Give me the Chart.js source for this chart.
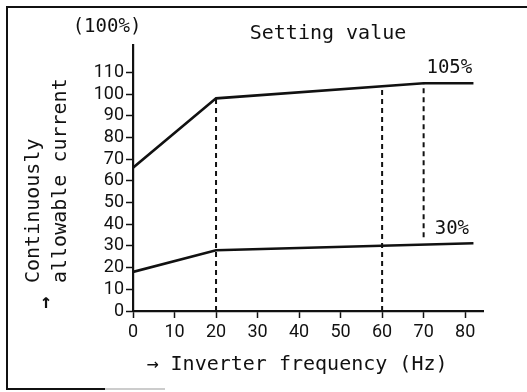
<!DOCTYPE html>
<html>
<head>
<meta charset="utf-8">
<script src="https://cdn.jsdelivr.net/npm/chart.js@4.4.1/dist/chart.umd.min.js"></script>
<style>
  html, body { margin: 0; padding: 0; background: #fff; }
  #chart { display: block; }
</style>
</head>
<body>
<canvas id="chart" width="527" height="392"></canvas>
<script>
// Continuously allowable current vs inverter frequency

const upperFreq = [0, 20, 70, 82];
const upperCurrent = [66, 98, 105, 105];

const lowerFreq = [0, 20, 82];
const lowerCurrent = [18, 28, 31.2];

// dashed guide lines: frequency, top and bottom of each guide
const guideFreq = [20, 60, 70];
const guideTop = [98, 103.6, 105];
const guideBottom = [0, 0, 34];

const xTicks = [0, 10, 20, 30, 40, 50, 60, 70, 80];
const yTicks = [0, 10, 20, 30, 40, 50, 60, 70, 80, 90, 100, 110];

// value labels: text, frequency, current
const valueLabels = [
  { text: '105%', x: 76.2, y: 112 },
  { text: '30%', x: 76.8, y: 37.8 }
];

const INK = '#111';
const monoFont = "'DejaVu Sans Mono', monospace";
const tickFont = "Roboto, 'Liberation Sans', sans-serif";

const toPoints = (xs, ys) => xs.map((x, i) => ({ x, y: ys[i] }));

const datasets = [
  {
    data: toPoints(upperFreq, upperCurrent),
    borderColor: INK, borderWidth: 2.6, pointRadius: 0, tension: 0
  },
  {
    data: toPoints(lowerFreq, lowerCurrent),
    borderColor: INK, borderWidth: 2.6, pointRadius: 0, tension: 0
  }
];

guideFreq.forEach((f, i) => {
  datasets.push({
    data: [{ x: f, y: guideBottom[i] }, { x: f, y: guideTop[i] }],
    borderColor: INK, borderWidth: 2, borderDash: [5, 4],
    pointRadius: 0, tension: 0
  });
});

// outer frame: open on the right, bottom edge only partly printed
const framePlugin = {
  id: 'frame',
  beforeDraw(chart) {
    const { ctx, width } = chart;
    ctx.save();
    ctx.strokeStyle = INK;
    ctx.lineWidth = 2;
    ctx.beginPath();
    ctx.moveTo(width, 7);
    ctx.lineTo(7, 7);
    ctx.lineTo(7, 389);
    ctx.lineTo(105, 389);
    ctx.stroke();
    ctx.strokeStyle = '#999';
    ctx.lineWidth = 1;
    ctx.beginPath();
    ctx.moveTo(105, 389);
    ctx.lineTo(165, 389);
    ctx.stroke();
    ctx.restore();
  }
};

// titles and percentage labels
const textPlugin = {
  id: 'chartText',
  afterDraw(chart) {
    const { ctx, scales } = chart;
    ctx.save();
    ctx.fillStyle = INK;
    ctx.textBaseline = 'middle';

    ctx.font = `19px ${monoFont}`;
    ctx.textAlign = 'center';
    ctx.fillText('(100%)', 107, 27);
    ctx.font = `20px ${monoFont}`;
    ctx.fillText('Setting value', 328, 34);
    ctx.fillText('→ Inverter frequency (Hz)', 297, 365);

    ctx.font = `19px ${monoFont}`;
    valueLabels.forEach(l => {
      ctx.fillText(l.text, scales.x.getPixelForValue(l.x), scales.y.getPixelForValue(l.y));
    });

    // rotated axis title, both lines start at the same height
    ctx.font = `20px ${monoFont}`;
    ctx.textAlign = 'left';
    ctx.save();
    ctx.translate(34, 283);
    ctx.rotate(-Math.PI / 2);
    ctx.fillText('Continuously', 0, 0);
    ctx.restore();
    ctx.save();
    ctx.translate(61, 283);
    ctx.rotate(-Math.PI / 2);
    ctx.fillText('allowable current', 0, 0);
    ctx.restore();

    ctx.textAlign = 'center';
    ctx.font = `bold 20px ${monoFont}`;
    ctx.fillText('↑', 46, 303);
    ctx.restore();
  }
};

new Chart(document.getElementById('chart'), {
  type: 'line',
  data: { datasets },
  options: {
    responsive: false,
    animation: false,
    layout: { autoPadding: false, padding: { left: 0, top: 45, right: 44, bottom: 0 } },
    plugins: { legend: { display: false }, tooltip: { enabled: false } },
    scales: {
      x: {
        type: 'linear',
        min: 0, max: 84.3,
        afterBuildTicks: s => { s.ticks = xTicks.map(v => ({ value: v })); },
        afterFit: s => { s.height = 81; },
        border: { display: true, color: INK, width: 2.2 },
        grid: { drawOnChartArea: false, drawTicks: true, tickLength: 7, tickColor: INK, tickWidth: 1.5 },
        ticks: { color: INK, padding: 4, maxRotation: 0, autoSkip: false, font: { family: tickFont, size: 18 } }
      },
      y: {
        type: 'linear',
        min: 0, max: 122.6,
        afterBuildTicks: s => { s.ticks = yTicks.map(v => ({ value: v })); },
        afterFit: s => { s.width = 133; },
        border: { display: true, color: INK, width: 2.2 },
        grid: { drawOnChartArea: false, drawTicks: true, tickLength: 7, tickColor: INK, tickWidth: 1.5 },
        ticks: { color: INK, padding: 2, autoSkip: false, font: { family: tickFont, size: 18 } }
      }
    }
  },
  plugins: [framePlugin, textPlugin]
});
</script>
</body>
</html>
